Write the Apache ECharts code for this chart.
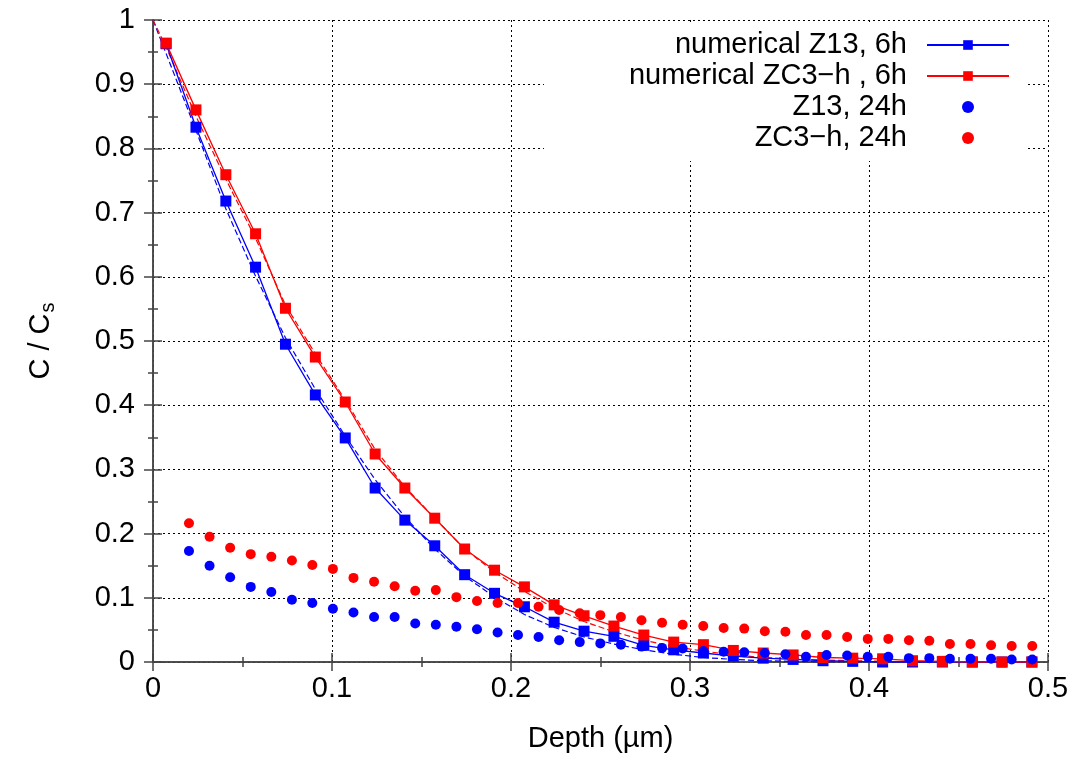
<!DOCTYPE html>
<html>
<head>
<meta charset="utf-8">
<script src="https://cdn.jsdelivr.net/npm/echarts@6/dist/echarts.min.js"></script>
<style>
html,body{margin:0;padding:0;background:#fff;}
#chart{width:1078px;height:758px;}
</style>
</head>
<body>
<div id="chart"></div>
<script>
// depth positions (µm) of the numerical (6h) points
const sqX = [0.0073,0.0240,0.0407,0.0573,0.0740,0.0907,0.1074,0.1241,0.1407,0.1574,
             0.1741,0.1908,0.2075,0.2241,0.2408,0.2575,0.2742,0.2909,0.3075,0.3242,
             0.3409,0.3576,0.3743,0.3909,0.4076,0.4243,0.4410,0.4577,0.4743,0.4910];
const numZ13 = [0.963,0.833,0.718,0.615,0.495,0.416,0.349,0.271,0.221,0.181,
                0.136,0.107,0.086,0.062,0.048,0.040,0.026,0.019,0.014,0.009,
                0.006,0.004,0.002,0.001,0,0,0,0,0,0];
const numZC3 = [0.964,0.860,0.759,0.667,0.551,0.475,0.405,0.324,0.271,0.224,
                0.176,0.143,0.117,0.089,0.072,0.056,0.042,0.031,0.027,0.018,
                0.014,0.011,0.007,0.006,0.005,0.002,0.001,0,0,0];
// dashed (unlabelled) curves, starting at depth 0
const dashX = [0].concat(sqX);
const dashZ13 = [1.0,0.948,0.828,0.706,0.601,0.505,0.425,0.352,0.284,0.226,0.176,
                 0.134,0.101,0.074,0.054,0.039,0.028,0.019,0.012,0.007,0.004,
                 0.002,0.001,0,0,0,0,0,0,0,0];
const dashZC3 = [1.0,0.958,0.850,0.752,0.660,0.556,0.480,0.408,0.331,0.273,0.224,
                 0.176,0.140,0.110,0.084,0.063,0.047,0.034,0.024,0.017,0.011,
                 0.007,0.005,0.003,0.002,0.001,0,0,0,0,0];
// measured (24h) points
const dotX = [0.0201,0.0316,0.0431,0.0546,0.0661,0.0776,0.0890,0.1005,0.1120,0.1235,
              0.1350,0.1465,0.1580,0.1695,0.1810,0.1925,0.2039,0.2154,0.2269,0.2384,
              0.2499,0.2614,0.2729,0.2844,0.2959,0.3074,0.3188,0.3303,0.3418,0.3533,
              0.3648,0.3763,0.3878,0.3993,0.4108,0.4223,0.4337,0.4452,0.4567,0.4682,
              0.4797,0.4912];
const z13_24 = [0.173,0.150,0.132,0.117,0.109,0.097,0.092,0.083,0.077,0.070,
                0.070,0.060,0.058,0.055,0.051,0.046,0.042,0.039,0.034,0.031,
                0.029,0.027,0.024,0.022,0.021,0.017,0.016,0.015,0.014,0.012,
                0.008,0.011,0.010,0.008,0.008,0.006,0.006,0.005,0.005,0.005,
                0.004,0.004];
const zc3_24 = [0.216,0.195,0.178,0.168,0.164,0.158,0.151,0.145,0.131,0.125,
                0.118,0.111,0.112,0.101,0.095,0.092,0.092,0.086,0.081,0.076,
                0.073,0.070,0.065,0.061,0.058,0.056,0.053,0.052,0.048,0.047,
                0.042,0.042,0.039,0.036,0.036,0.034,0.033,0.028,0.028,0.026,
                0.025,0.025];
const xTicks = [0, 0.1, 0.2, 0.3, 0.4, 0.5];
const yTicks = [0, 0.1, 0.2, 0.3, 0.4, 0.5, 0.6, 0.7, 0.8, 0.9, 1];
const names = ['numerical Z13, 6h', 'numerical ZC3\u2212h , 6h', 'Z13, 24h', 'ZC3\u2212h, 24h'];

const zip = (xs, ys) => xs.map((x, i) => [x, ys[i]]);
const FONT = 'Liberation Sans';
const BLUE = '#0000ff', RED = '#ff0000';
const axisLineStyle = { color: '#444', width: 1.5 };

const chart = echarts.init(document.getElementById('chart'), null, { renderer: 'canvas' });
chart.setOption({
  animation: false,
  backgroundColor: '#fff',
  grid: { left: 153, right: 30, top: 20, bottom: 96, containLabel: false },
  legend: {
    data: names,
    orient: 'vertical',
    align: 'right',
    right: 50,
    top: 22,
    padding: [8, 18, 8, 85],
    backgroundColor: '#fff',
    itemWidth: 82,
    itemHeight: 12,
    itemGap: 1,
    textStyle: { fontFamily: FONT, fontSize: 29, color: '#000', lineHeight: 30, padding: [0, 15, 0, 0] }
  },
  xAxis: [{
    type: 'value', min: xTicks[0], max: xTicks[xTicks.length - 1], interval: 0.1,
    position: 'bottom',
    name: 'Depth (\u00b5m)', nameLocation: 'middle', nameGap: 62,
    nameTextStyle: { fontFamily: FONT, fontSize: 29, color: '#000' },
    axisLine: { show: true, lineStyle: axisLineStyle },
    axisTick: { inside: true, length: 9, lineStyle: axisLineStyle },
    minorTick: { show: true, splitNumber: 2, length: 5, lineStyle: axisLineStyle },
    axisLabel: { fontFamily: FONT, fontSize: 29, color: '#000', margin: 12 },
    splitLine: { show: true, lineStyle: { color: '#000', width: 1, type: [2, 3] } }
  }, {
    type: 'value', min: 0, max: 0.5, interval: 0.1, position: 'top',
    axisLine: { show: true, lineStyle: axisLineStyle },
    axisTick: { inside: true, length: 9, lineStyle: axisLineStyle },
    minorTick: { show: true, splitNumber: 2, length: 5, lineStyle: axisLineStyle },
    axisLabel: { show: false }, splitLine: { show: false }
  }],
  yAxis: [{
    type: 'value', min: yTicks[0], max: yTicks[yTicks.length - 1], interval: 0.1,
    position: 'left',
    name: '{a|C / C}{s|s}', nameLocation: 'middle', nameGap: 95, nameRotate: 90,
    nameTextStyle: { fontFamily: FONT, fontSize: 29, color: '#000',
      rich: { a: { fontFamily: FONT, fontSize: 29, color: '#000' },
              s: { fontFamily: FONT, fontSize: 20, color: '#000', padding: [14, 0, 0, 1] } } },
    axisLine: { show: true, lineStyle: axisLineStyle },
    axisTick: { inside: true, length: 9, lineStyle: axisLineStyle },
    minorTick: { show: true, splitNumber: 2, length: 5, lineStyle: axisLineStyle },
    axisLabel: { fontFamily: FONT, fontSize: 29, color: '#000', margin: 18 },
    splitLine: { show: true, lineStyle: { color: '#000', width: 1, type: [2, 3] } }
  }, {
    type: 'value', min: 0, max: 1, interval: 0.1, position: 'right',
    axisLine: { show: true, lineStyle: axisLineStyle },
    axisTick: { inside: true, length: 9, lineStyle: axisLineStyle },
    minorTick: { show: true, splitNumber: 2, length: 5, lineStyle: axisLineStyle },
    axisLabel: { show: false }, splitLine: { show: false }
  }],
  series: [
    { name: 'fit Z13', type: 'line', data: zip(dashX, dashZ13), showSymbol: false, symbol: 'none',
      lineStyle: { color: BLUE, width: 1.2, type: [6, 3] }, z: 2 },
    { name: 'fit ZC3', type: 'line', data: zip(dashX, dashZC3), showSymbol: false, symbol: 'none',
      lineStyle: { color: RED, width: 1.2, type: [6, 3] }, z: 2 },
    { name: names[0], type: 'line', data: zip(sqX, numZ13), symbol: 'rect', symbolSize: 11,
      showAllSymbol: true, color: BLUE, itemStyle: { color: BLUE, opacity: 1 },
      lineStyle: { color: BLUE, width: 1.3 }, z: 3 },
    { name: names[1], type: 'line', data: zip(sqX, numZC3), symbol: 'rect', symbolSize: 11,
      showAllSymbol: true, color: RED, itemStyle: { color: RED, opacity: 1 },
      lineStyle: { color: RED, width: 1.3 }, z: 3 },
    { name: names[2], type: 'scatter', data: zip(dotX, z13_24), symbol: 'circle', symbolSize: 10,
      color: BLUE, itemStyle: { color: BLUE, opacity: 1 }, z: 4 },
    { name: names[3], type: 'scatter', data: zip(dotX, zc3_24), symbol: 'circle', symbolSize: 10,
      color: RED, itemStyle: { color: RED, opacity: 1 }, z: 4 }
  ]
});
</script>
</body>
</html>
